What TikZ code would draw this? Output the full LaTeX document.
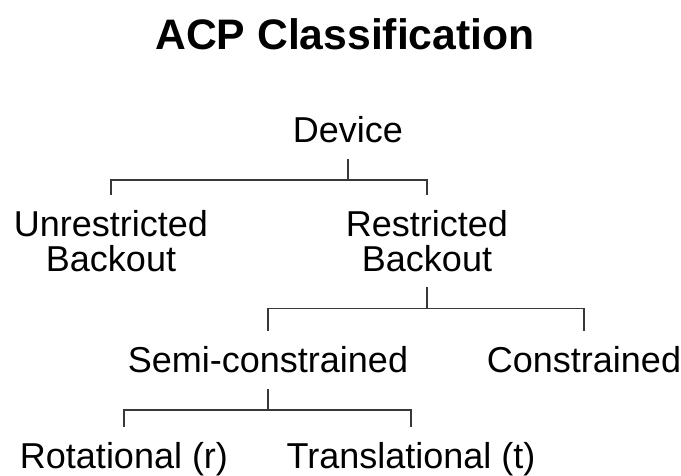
\documentclass[tikz,border=0pt]{standalone}
\usepackage{fontspec}
\setmainfont{Liberation Sans}
\usepackage{tikz}

\begin{document}
\begin{tikzpicture}[x=0.75pt,y=-0.75pt]
    \newcommand\fourche[3]{\draw[lien] (#1.south) -- ++(0,21) -| (#2.north)
                           (#1.south) ++(0,21) -| (#3.north);}
    \tikzstyle{noeud}=[font=\fontsize{27}{26.5}\selectfont,align=center,inner xsep=0pt,inner ysep=11.5pt]
    \tikzstyle{titre}=[font=\fontsize{32}{32}\selectfont\bfseries,inner sep=0pt]
    \tikzstyle{lien}=[line width=1.4pt,draw=black!78]
    \useasboundingbox (0,0) rectangle (681,475);
    \node[titre] at (345,34) (titre) {ACP Classification};
    \node[noeud] at (348,130) (dev) {Device};
    \node[noeud] at (111,241) (unr) {Unrestricted\\Backout};
    \node[noeud] at (427,241) (res) {Restricted\\Backout};
    \node[noeud] at (268,360) (semi) {Semi-constrained};
    \node[noeud] at (584,360) (con) {Constrained};
    \node[noeud] at (124,459) (rot) {Rotational (r)};
    \node[noeud] at (411,459) (tra) {Translational (t)};
    \fourche{dev}{unr}{res} % premier niveau
    \fourche{res}{semi}{con}
    \fourche{semi}{rot}{tra}
\end{tikzpicture}
\end{document}
